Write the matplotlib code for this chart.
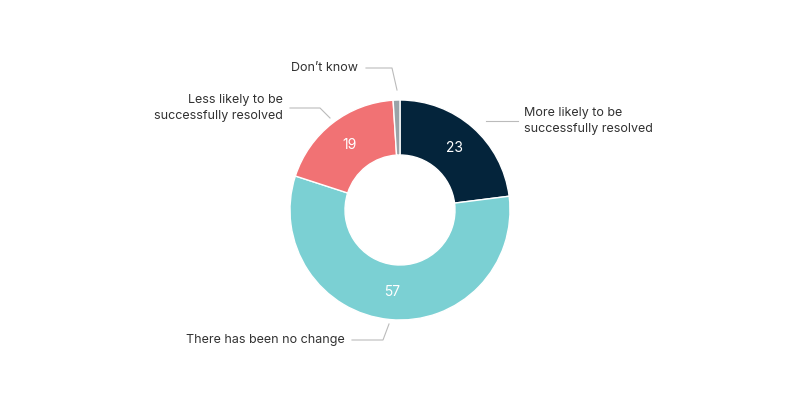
import matplotlib.pyplot as plt

labels = ["More likely to be\nsuccessfully resolved", "There has been no change",
          "Less likely to be\nsuccessfully resolved", "Don\u2019t know"]
values = [23, 57, 19, 1]
colors = ["#04243b", "#7bd0d3", "#f17274", "#9aa3a8"]

plt.rcParams["font.family"] = "Inter"
fig = plt.figure(figsize=(8, 4.04), dpi=100)
ax = fig.add_axes([0, 0, 1, 1])
ax.set_xlim(0, 800)
ax.set_ylim(0, 404)
ax.set_aspect("equal")
ax.axis("off")

cx, cy, r = 400, 194, 110
wedges, _ = ax.pie(values, colors=colors, startangle=90, counterclock=False,
                   center=(cx, cy), radius=r, frame=True,
                   wedgeprops=dict(width=r * 0.5, edgecolor="white", linewidth=1))
ax.set_xlim(0, 800)
ax.set_ylim(0, 404)
ax.axis("off")

# value labels inside the ring
import numpy as np
ang = 90
for v, w in zip(values, wedges):
    mid = ang - v * 3.6 / 2
    ang -= v * 3.6
    if v < 5:
        continue
    rr = r * 0.75
    ax.text(cx + rr * np.cos(np.radians(mid)), cy + rr * np.sin(np.radians(mid)),
            str(v), color="white", fontsize=10, ha="center", va="center")

lc = "#bbbbbb"
tc = "#333333"
# leader lines and category labels
ax.plot([486, 518], [283, 283], color=lc, lw=0.8)
ax.text(524, 283, labels[0], ha="left", va="center", fontsize=9, color=tc, linespacing=1.4)
ax.plot([352, 383, 389], [64, 64, 80], color=lc, lw=0.8)
ax.text(345, 64, labels[1], ha="right", va="center", fontsize=9, color=tc)
ax.plot([290, 320, 330], [296, 296, 286], color=lc, lw=0.8)
ax.text(283, 296, labels[2], ha="right", va="center", fontsize=9, color=tc, linespacing=1.4)
ax.plot([366, 392, 397], [336, 336, 314], color=lc, lw=0.8)
ax.text(358, 336, labels[3], ha="right", va="center", fontsize=9, color=tc)

fig.savefig("out.png", dpi=100)
